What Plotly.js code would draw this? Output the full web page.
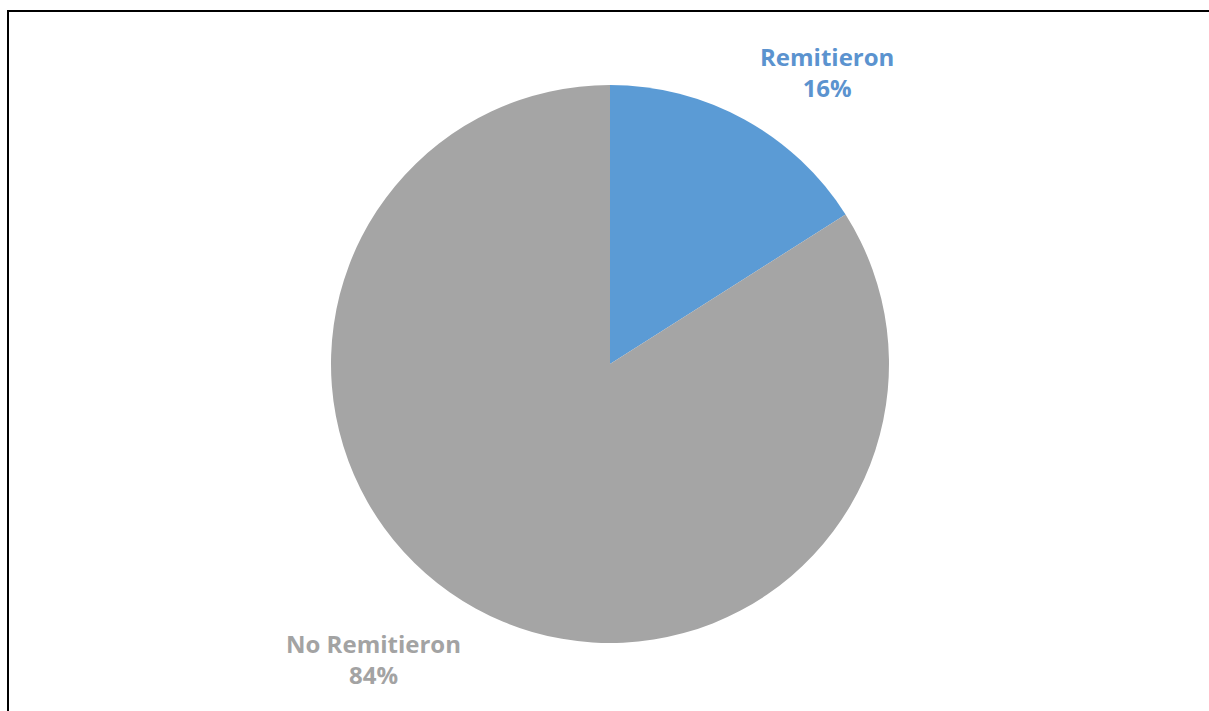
<!DOCTYPE html>
<html>
<head>
<meta charset="utf-8">
<script src="https://cdn.plot.ly/plotly-3.0.1.min.js"></script>
<style>html,body{margin:0;padding:0;background:#fff;}#chart{width:1209px;height:711px;}</style>
</head>
<body>
<div id="chart"></div>
<script>
const categories = ["Remitieron", "No Remitieron"];
const values = [16, 84];
const sliceColors = ["#5B9BD5", "#A5A5A5"];
const labelColors = ["#5B93CF", "#A3A3A3"];

const total = values.reduce((a, b) => a + b, 0);
const pct = values.map(v => Math.round(v / total * 100) + "%");

const W = 1209, H = 711;
const trace = {
  type: "pie",
  labels: categories,
  values: values,
  sort: false,
  direction: "clockwise",
  rotation: 0,
  textinfo: "none",
  hoverinfo: "label+percent",
  marker: {colors: sliceColors, line: {width: 0}},
  domain: {x: [331 / W, 889 / W], y: [(H - 643) / H, (H - 85) / H]},
  showlegend: false
};

const labelPos = [[827 / W, 1 - 72 / H], [373 / W, 1 - 659 / H]];
const annotations = categories.map((c, i) => ({
  xref: "paper", yref: "paper",
  x: labelPos[i][0], y: labelPos[i][1],
  xanchor: "center", yanchor: "middle",
  text: c + "<br>" + pct[i],
  showarrow: false,
  align: "center",
  font: {family: "'Open Sans', sans-serif", size: 24, color: labelColors[i], weight: "bold"}
}));

const layout = {
  width: W, height: H,
  margin: {l: 0, r: 0, t: 0, b: 0},
  paper_bgcolor: "#ffffff",
  annotations: annotations,
  shapes: [
    {type: "line", xref: "paper", yref: "paper", x0: 7 / W, x1: 1, y0: 1 - 11 / H, y1: 1 - 11 / H, line: {color: "#000", width: 2}},
    {type: "line", xref: "paper", yref: "paper", x0: 8 / W, x1: 8 / W, y0: 1 - 11 / H, y1: 0, line: {color: "#000", width: 2}}
  ]
};

Plotly.newPlot("chart", [trace], layout, {displayModeBar: false, staticPlot: true});
</script>
</body>
</html>
